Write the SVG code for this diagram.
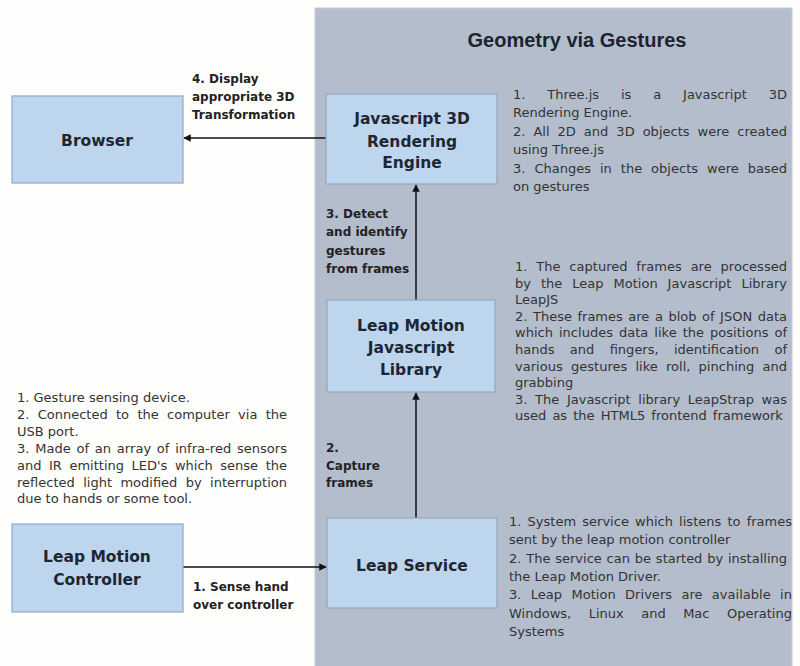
<svg xmlns="http://www.w3.org/2000/svg" width="800" height="666" viewBox="0 0 800 666">
<defs>
<style>
.node{fill:#bdd6ed;stroke:#8fa7c1;stroke-width:1.2}
.nl{font-family:"DejaVu Sans",sans-serif;font-weight:bold;font-size:15.5px;fill:#1d2633;text-anchor:middle}
.al{font-family:"DejaVu Sans",sans-serif;font-weight:bold;font-size:12px;fill:#222}
.bt{font-family:"DejaVu Sans",sans-serif;font-size:13px;fill:#333}
.cn{stroke:#111;stroke-width:1.5;fill:none;marker-end:url(#ah)}
</style>
<marker id="ah" viewBox="0 0 10 10" refX="9" refY="5" markerWidth="5" markerHeight="5" orient="auto" markerUnits="strokeWidth">
<path d="M0,0 L10,5 L0,10 z" fill="#111"/>
</marker>
</defs>
<rect x="0" y="0" width="800" height="666" fill="#fefefc"/>
<g id="panel">
<rect x="315" y="8" width="477" height="670" fill="#b4bdcc" stroke="#c3cad6" stroke-width="1"/>
<text x="577" y="47" font-family="Liberation Sans, Arial, sans-serif" font-weight="bold" font-size="20" fill="#1d2330" text-anchor="middle">Geometry via Gestures</text>
</g>
<g id="connectors">
<line class="cn" x1="326" y1="138" x2="184" y2="138"/>
<line class="cn" x1="416" y1="300" x2="416" y2="185"/>
<line class="cn" x1="416" y1="518" x2="416" y2="393"/>
<line class="cn" x1="183" y1="567" x2="326" y2="567" stroke-width="2"/>
</g>
<g id="browser">
<rect class="node" x="12" y="96" width="171" height="87"/>
<text class="nl" x="97" y="146">Browser</text>
</g>
<g id="engine">
<rect class="node" x="326" y="94" width="171" height="90"/>
<text class="nl" x="412" y="124">Javascript 3D</text>
<text class="nl" x="412" y="147">Rendering</text>
<text class="nl" x="412" y="168">Engine</text>
</g>
<g id="library">
<rect class="node" x="327" y="300" width="168" height="92"/>
<text class="nl" x="411" y="331">Leap Motion</text>
<text class="nl" x="411" y="353">Javascript</text>
<text class="nl" x="411" y="375">Library</text>
</g>
<g id="service">
<rect class="node" x="327" y="518" width="170" height="90"/>
<text class="nl" x="412" y="571">Leap Service</text>
</g>
<g id="controller">
<rect class="node" x="12" y="524" width="171" height="88"/>
<text class="nl" x="97" y="562">Leap Motion</text>
<text class="nl" x="97" y="585">Controller</text>
</g>
<g id="edge-labels">
<text class="al" x="192" y="83">4. Display</text>
<text class="al" x="192" y="101">appropriate 3D</text>
<text class="al" x="192" y="119">Transformation</text>
<text class="al" x="326" y="218">3. Detect</text>
<text class="al" x="326" y="236">and identify</text>
<text class="al" x="326" y="255">gestures</text>
<text class="al" x="326" y="273">from frames</text>
<text class="al" x="326" y="452">2.</text>
<text class="al" x="326" y="470">Capture</text>
<text class="al" x="326" y="487">frames</text>
<text class="al" x="193" y="591">1. Sense hand</text>
<text class="al" x="193" y="609">over controller</text>
</g>
<g id="notes-engine">
<text class="bt" x="513" y="99" word-spacing="17.7" textLength="274" lengthAdjust="spacing">1. Three.js is a Javascript 3D</text>
<text class="bt" x="513" y="117">Rendering Engine.</text>
<text class="bt" x="513" y="136" word-spacing="3.8" textLength="274" lengthAdjust="spacing">2. All 2D and 3D objects were created</text>
<text class="bt" x="513" y="154">using Three.js</text>
<text class="bt" x="513" y="173" word-spacing="4.8" textLength="274" lengthAdjust="spacing">3. Changes in the objects were based</text>
<text class="bt" x="513" y="191">on gestures</text>
</g>
<g id="notes-library">
<text class="bt" x="515" y="271" word-spacing="4.6" textLength="272" lengthAdjust="spacing">1. The captured frames are processed</text>
<text class="bt" x="515" y="287.6" word-spacing="5.8" textLength="272" lengthAdjust="spacing">by the Leap Motion Javascript Library</text>
<text class="bt" x="515" y="304.2">LeapJS</text>
<text class="bt" x="515" y="320.8" word-spacing="1.4" textLength="272" lengthAdjust="spacing">2. These frames are a blob of JSON data</text>
<text class="bt" x="515" y="337.4" word-spacing="1.8" textLength="272" lengthAdjust="spacing">which includes data like the positions of</text>
<text class="bt" x="515" y="354" word-spacing="11.2" textLength="272" lengthAdjust="spacing">hands and fingers, identification of</text>
<text class="bt" x="515" y="370.6" word-spacing="3.9" textLength="272" lengthAdjust="spacing">various gestures like roll, pinching and</text>
<text class="bt" x="515" y="387.2">grabbing</text>
<text class="bt" x="515" y="403.8" word-spacing="3.5" textLength="272" lengthAdjust="spacing">3. The Javascript library LeapStrap was</text>
<text class="bt" x="515" y="420.4" word-spacing="2">used as the HTML5 frontend framework</text>
</g>
<g id="notes-service">
<text class="bt" x="509" y="526" word-spacing="2" textLength="283" lengthAdjust="spacing">1. System service which listens to frames</text>
<text class="bt" x="509" y="544.3">sent by the leap motion controller</text>
<text class="bt" x="509" y="562.6" word-spacing="0.7" textLength="278" lengthAdjust="spacing">2. The service can be started by installing</text>
<text class="bt" x="509" y="580.9">the Leap Motion Driver.</text>
<text class="bt" x="509" y="599.2" word-spacing="5.2" textLength="283" lengthAdjust="spacing">3. Leap Motion Drivers are available in</text>
<text class="bt" x="509" y="617.5" word-spacing="13.3" textLength="283" lengthAdjust="spacing">Windows, Linux and Mac Operating</text>
<text class="bt" x="509" y="635.8">Systems</text>
</g>
<g id="notes-controller">
<text class="bt" x="17" y="402">1. Gesture sensing device.</text>
<text class="bt" x="17" y="418.9" word-spacing="4.2" textLength="270" lengthAdjust="spacing">2. Connected to the computer via the</text>
<text class="bt" x="17" y="435.8">USB port.</text>
<text class="bt" x="17" y="452.7" word-spacing="1.6" textLength="270" lengthAdjust="spacing">3. Made of an array of infra-red sensors</text>
<text class="bt" x="17" y="469.6" word-spacing="3.4" textLength="270" lengthAdjust="spacing">and IR emitting LED's which sense the</text>
<text class="bt" x="17" y="486.5" word-spacing="4.2" textLength="270" lengthAdjust="spacing">reflected light modified by interruption</text>
<text class="bt" x="17" y="503.4">due to hands or some tool.</text>
</g>
</svg>
